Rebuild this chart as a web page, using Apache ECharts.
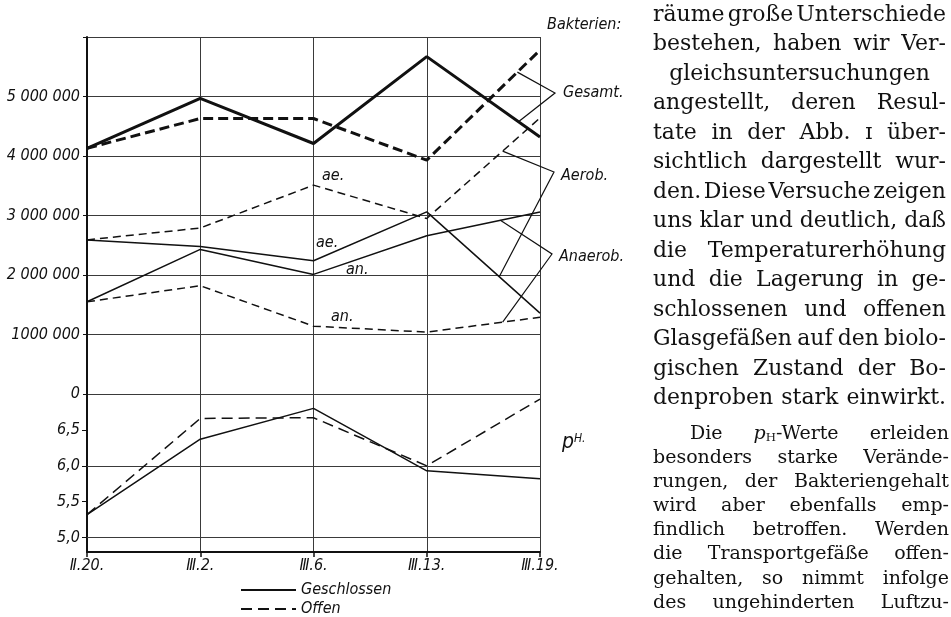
<!DOCTYPE html>
<html>
<head>
<meta charset="utf-8">
<script src="https://cdn.jsdelivr.net/npm/echarts@6/dist/echarts.min.js"></script>
<style>
  html, body { margin: 0; padding: 0; background: #fff; }
  #chart { width: 951px; height: 617px; }
</style>
</head>
<body>
<div id="chart"></div>
<script>
// Sampling dates (evenly spaced on the chart)
const categories = ['Ⅱ.20.', 'Ⅲ.2.', 'Ⅲ.6.', 'Ⅲ.13.', 'Ⅲ.19.'];

// Bacteria counts per gram, closed (Geschlossen) and open (Offen) vessels
const gesamtGeschlossen  = [4130000, 4970000, 4210000, 5670000, 4320000];
const gesamtOffen        = [4130000, 4630000, 4630000, 3930000, 5780000];
const aerobGeschlossen   = [2590000, 2480000, 2240000, 3060000, 1360000];
const aerobOffen         = [2590000, 2790000, 3510000, 2950000, 4640000];
const anaerobGeschlossen = [1550000, 2430000, 2010000, 2660000, 3060000];
const anaerobOffen       = [1550000, 1820000, 1140000, 1040000, 1290000];

// pH values
const phGeschlossen = [5.32, 6.37, 6.80, 5.93, 5.82];
const phOffen       = [5.32, 6.66, 6.67, 6.00, 6.93];

// Axis tick labels
const bacteriaTickLabels = ['0', '1000 000', '2 000 000', '3 000 000', '4 000 000', '5 000 000', ''];
const phTickValues = [5.0, 5.5, 6.0, 6.5];
const phTickLabels = ['5,0', '5,5', '6,0', '6,5'];
const phGridValues = [5.0, 6.0];

// Running text beside the figure
const bodyLinesLarge = [
  'räume große Unterschiede',
  'bestehen, haben wir Ver-',
  'gleichsuntersuchungen',
  'angestellt, deren Resul-',
  'tate in der Abb. ɪ über-',
  'sichtlich dargestellt wur-',
  'den. Diese Versuche zeigen',
  'uns klar und deutlich, daß',
  'die Temperaturerhöhung',
  'und die Lagerung in ge-',
  'schlossenen und offenen',
  'Glasgefäßen auf den biolo-',
  'gischen Zustand der Bo-',
  'denproben stark einwirkt.'
];
const bodyLinesSmall = [
  'Die pH-Werte erleiden',
  'besonders starke Verände-',
  'rungen, der Bakteriengehalt',
  'wird aber ebenfalls emp-',
  'findlich betroffen. Werden',
  'die Transportgefäße offen-',
  'gehalten, so nimmt infolge',
  'des ungehinderten Luftzu-'
];

const CHART_FONT = "'Liberation Sans Narrow', 'DejaVu Sans Condensed', 'Liberation Sans', sans-serif";
const BODY_FONT = "'DejaVu Serif', 'Liberation Serif', serif";
const INK = '#111';
const GRID_INK = '#3a3a3a';

const chart = echarts.init(document.getElementById('chart'), null, { renderer: 'canvas' });

const thin = 1.5, thick = 3;
function lineSeries(name, data, grid, width, dashed, extra) {
  return Object.assign({
    name: name,
    type: 'line',
    xAxisIndex: grid,
    yAxisIndex: grid,
    data: data,
    symbol: 'none',
    silent: true,
    color: INK,
    lineStyle: { color: INK, width: width, type: dashed ? dashed : 'solid' },
    z: 5
  }, extra || {});
}

const axisText = { fontFamily: CHART_FONT, fontStyle: 'italic', fontSize: 16, color: INK };

chart.setOption({
  animation: false,
  backgroundColor: '#fff',
  grid: [
    { left: 87, top: 37, width: 453, height: 357 },
    { left: 87, top: 394, width: 453, height: 158 }
  ],
  legend: {
    orient: 'vertical',
    left: 240,
    top: 582,
    padding: 0,
    itemWidth: 55,
    itemHeight: 12,
    itemGap: 3,
    selectedMode: false,
    itemStyle: { opacity: 0 },
    data: ['Geschlossen', 'Offen'],
    textStyle: Object.assign({}, axisText, { lineHeight: 14 })
  },
  xAxis: [
    {
      type: 'category', gridIndex: 0, data: categories, boundaryGap: false,
      axisLine: { show: false }, axisTick: { show: false }, axisLabel: { show: false },
      splitLine: { show: true, lineStyle: { color: GRID_INK, width: 1 } }
    },
    {
      type: 'category', gridIndex: 1, data: categories, boundaryGap: false,
      axisLine: { show: true, lineStyle: { color: INK, width: 2 } },
      axisTick: { show: true, length: 5, lineStyle: { color: INK, width: 1.5 } },
      axisLabel: Object.assign({ margin: 6 }, axisText),
      splitLine: { show: true, lineStyle: { color: GRID_INK, width: 1 } }
    }
  ],
  yAxis: [
    {
      type: 'value', gridIndex: 0, min: 0, max: 6000000, interval: 1000000,
      axisLine: { show: true, lineStyle: { color: INK, width: 2 } },
      axisTick: { show: true, length: 4, lineStyle: { color: INK } },
      axisLabel: Object.assign({
        margin: 7,
        formatter: function (v) { return bacteriaTickLabels[Math.round(v / 1000000)]; }
      }, axisText),
      splitLine: { show: true, lineStyle: { color: GRID_INK, width: 1 } }
    },
    {
      type: 'value', gridIndex: 1, min: 4.8, max: 7.0,
      axisLine: { show: true, lineStyle: { color: INK, width: 2 } },
      axisTick: { show: true, length: 5, customValues: phTickValues, lineStyle: { color: INK } },
      axisLabel: Object.assign({
        margin: 7,
        customValues: phTickValues,
        formatter: function (v) {
          const i = phTickValues.findIndex(function (t) { return Math.abs(t - v) < 1e-6; });
          return i >= 0 ? phTickLabels[i] : '';
        }
      }, axisText),
      splitLine: { show: false }
    }
  ],
  series: [
    lineSeries('Geschlossen', phGeschlossen, 1, thin, null, {
      markLine: {
        silent: true, symbol: 'none', label: { show: false },
        lineStyle: { color: GRID_INK, width: 1, type: 'solid' },
        data: phGridValues.map(function (v) { return { yAxis: v }; })
      }
    }),
    lineSeries('Offen', phOffen, 1, thin, [11, 6]),
    lineSeries('Geschlossen', gesamtGeschlossen, 0, thick),
    lineSeries('Offen', gesamtOffen, 0, thick, [10, 5]),
    lineSeries('Geschlossen', aerobGeschlossen, 0, thin),
    lineSeries('Offen', aerobOffen, 0, thin, [8, 5]),
    lineSeries('Geschlossen', anaerobGeschlossen, 0, thin),
    lineSeries('Offen', anaerobOffen, 0, thin, [8, 5])
  ]
});

// ---- leader brackets between the line ends and their group labels ----
function pointBetween(data, t) {
  const a = chart.convertToPixel({ gridIndex: 0 }, [3, data[3]]);
  const b = chart.convertToPixel({ gridIndex: 0 }, [4, data[4]]);
  return [a[0] + (b[0] - a[0]) * t, a[1] + (b[1] - a[1]) * t];
}
function bracket(p1, apex, p2) {
  return {
    type: 'polyline', silent: true, z: 10,
    shape: { points: [p1, apex, p2] },
    style: { stroke: INK, lineWidth: 1.2, fill: null }
  };
}
function chartText(str, x, y, size) {
  return {
    type: 'text', x: x, y: y, silent: true, z: 10,
    style: {
      text: str, fill: INK, verticalAlign: 'middle',
      font: 'italic ' + size + 'px ' + CHART_FONT
    }
  };
}

const graphics = [
  bracket(pointBetween(gesamtOffen, 0.80), [555, 93], pointBetween(gesamtGeschlossen, 0.81)),
  bracket(pointBetween(aerobOffen, 0.67), [554, 172], pointBetween(aerobGeschlossen, 0.64)),
  bracket(pointBetween(anaerobGeschlossen, 0.65), [552, 254], pointBetween(anaerobOffen, 0.67)),
  chartText('Bakterien:', 547, 25, 16),
  chartText('Gesamt.', 563, 93, 16),
  chartText('Aerob.', 561, 176, 16),
  chartText('Anaerob.', 559, 257, 16),
  chartText('ae.', 322, 176, 16),
  chartText('ae.', 316, 243, 16),
  chartText('an.', 346, 270, 16),
  chartText('an.', 331, 317, 16),
  {
    type: 'text', x: 562, y: 443, silent: true, z: 10,
    style: {
      text: '{p|p}{h|H.}', fill: INK, verticalAlign: 'middle',
      rich: {
        p: { fontFamily: CHART_FONT, fontStyle: 'italic', fontSize: 21, fill: INK },
        h: { fontFamily: CHART_FONT, fontStyle: 'italic', fontSize: 12, fill: INK, verticalAlign: 'top' }
      }
    }
  }
];

// ---- justified body text ----
const measureCtx = document.createElement('canvas').getContext('2d');
function textWidth(str, size, style) {
  measureCtx.font = (style ? style + ' ' : '') + size + 'px ' + BODY_FONT;
  return measureCtx.measureText(str).width;
}
function wordWidth(w, size) {
  if (w === 'pH-Werte') {
    return textWidth('p', size, 'italic') + textWidth('H', size * 0.62) + textWidth('-Werte', size);
  }
  return textWidth(w, size);
}
function wordElement(w, x, y, size) {
  if (w === 'pH-Werte') {
    return {
      type: 'text', x: x, y: y, silent: true,
      style: {
        text: '{i|p}{s|H}{n|-Werte}', verticalAlign: 'middle', fill: INK,
        rich: {
          i: { fontFamily: BODY_FONT, fontStyle: 'italic', fontSize: size, fill: INK },
          s: { fontFamily: BODY_FONT, fontSize: size * 0.62, fill: INK, verticalAlign: 'bottom' },
          n: { fontFamily: BODY_FONT, fontSize: size, fill: INK }
        }
      }
    };
  }
  return {
    type: 'text', x: x, y: y, silent: true,
    style: { text: w, font: size + 'px ' + BODY_FONT, fill: INK, verticalAlign: 'middle' }
  };
}
// mode per line: 'j' justified, 'c' centred; indent in px for paragraph starts
function layoutBlock(lines, modes, indents, left, right, y0, step, maxSize, minGap) {
  const width = right - left;
  let size = maxSize;
  lines.forEach(function (line, i) {
    if (modes[i] !== 'j') return;
    const words = line.split(' ');
    const nat = words.reduce(function (s, w) { return s + wordWidth(w, 100); }, 0) / 100;
    const s = (width - (indents[i] || 0)) / (nat + minGap * (words.length - 1));
    if (s < size) size = s;
  });
  const out = [];
  lines.forEach(function (line, i) {
    const y = y0 + i * step;
    const words = line.split(' ');
    const widths = words.map(function (w) { return wordWidth(w, size); });
    const total = widths.reduce(function (a, b) { return a + b; }, 0);
    let x, gap;
    if (modes[i] === 'c') {
      gap = textWidth(' ', size);
      x = left + (width - total - gap * (words.length - 1)) / 2;
    } else {
      const ind = indents[i] || 0;
      x = left + ind;
      gap = words.length > 1 ? (width - ind - total) / (words.length - 1) : 0;
    }
    words.forEach(function (w, k) {
      out.push(wordElement(w, x, y, size));
      x += widths[k] + gap;
    });
  });
  return out;
}

const largeModes = bodyLinesLarge.map(function (_, i) { return i === 2 ? 'c' : 'j'; });
const smallModes = bodyLinesSmall.map(function () { return 'j'; });
const textEls = []
  .concat(layoutBlock(bodyLinesLarge, largeModes, {}, 653, 946, 15, 29.5, 23, 0.12))
  .concat(layoutBlock(bodyLinesSmall, smallModes, { 0: 37 }, 653, 949, 434, 24.1, 19, 0.08));

chart.setOption({ graphic: { elements: graphics.concat(textEls) } });
</script>
</body>
</html>
